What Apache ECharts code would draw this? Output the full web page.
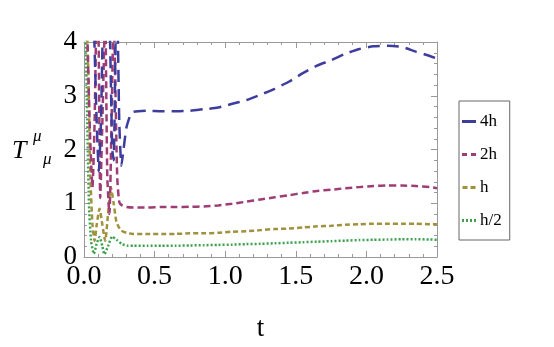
<!DOCTYPE html>
<html>
<head>
<meta charset="utf-8">
<script src="https://cdn.jsdelivr.net/npm/echarts@6/dist/echarts.min.js"></script>
<style>
  html, body { margin: 0; padding: 0; background: #fff; }
  #main { width: 554px; height: 347px; }
</style>
</head>
<body>
<div id="main"></div>
<script>
// series names
var names = ['4h', '2h', 'h', 'h/2'];
var colors = ['#3D3D9E', '#9E3D75', '#A0913D', '#3DA150'];

// late-time sample grid shared by all curves
var tLate = [0.35, 0.45, 0.55, 0.65, 0.75, 0.85, 0.95, 1.05, 1.15, 1.25, 1.35, 1.45,
             1.55, 1.65, 1.75, 1.85, 1.95, 2.05, 2.15, 2.25, 2.35, 2.45, 2.5];

// early oscillating part (t, value)
var t4hEarly = [0, 0.05, 0.09, 0.105, 0.12, 0.15, 0.18, 0.2, 0.21, 0.225, 0.235, 0.25, 0.265, 0.28, 0.3, 0.33];
var y4hEarly = [8, 6, 2.5, 1.6, 2.5, 6, 4.5, 2.0, 1.8, 4.2, 4.5, 2.5, 1.7, 2.0, 2.4, 2.65];
var y4hLate = [2.70, 2.72, 2.71, 2.71, 2.72, 2.75, 2.78, 2.85, 2.92, 3.02, 3.13, 3.26,
               3.42, 3.56, 3.66, 3.78, 3.87, 3.92, 3.93, 3.91, 3.82, 3.74, 3.69];

var t2hEarly = [0, 0.02, 0.04, 0.06, 0.075, 0.09, 0.1, 0.115, 0.13, 0.15, 0.165, 0.18, 0.195, 0.21, 0.22, 0.235, 0.25, 0.27, 0.3];
var y2hEarly = [6, 4.5, 2.5, 1.3, 2.5, 4.5, 4.5, 1.1, 2.5, 4.5, 1.5, 0.8, 2.5, 4.5, 3.5, 1.5, 1.02, 0.96, 0.93];
var y2hLate = [0.92, 0.92, 0.93, 0.93, 0.935, 0.94, 0.96, 0.99, 1.03, 1.07, 1.11, 1.15,
               1.19, 1.23, 1.25, 1.28, 1.30, 1.32, 1.33, 1.33, 1.32, 1.30, 1.28];

var thEarly = [0, 0.03, 0.045, 0.06, 0.075, 0.09, 0.11, 0.13, 0.15, 0.17, 0.19, 0.21, 0.23, 0.26, 0.3];
var yhEarly = [6, 3.5, 1.5, 0.6, 0.3, 0.6, 0.9, 0.6, 0.3, 0.8, 1.3, 1.0, 0.65, 0.5, 0.45];
var yhLate = [0.43, 0.43, 0.43, 0.43, 0.44, 0.44, 0.45, 0.47, 0.48, 0.50, 0.52, 0.53,
              0.55, 0.57, 0.58, 0.60, 0.61, 0.62, 0.62, 0.62, 0.62, 0.61, 0.61];

var th2Early = [0, 0.02, 0.035, 0.05, 0.07, 0.09, 0.11, 0.13, 0.145, 0.17, 0.2, 0.23, 0.27, 0.31];
var yh2Early = [6, 3.0, 1.0, 0.3, 0.06, 0.25, 0.37, 0.2, 0.05, 0.2, 0.38, 0.32, 0.24, 0.21];
var yh2Late = [0.21, 0.21, 0.21, 0.21, 0.215, 0.22, 0.225, 0.23, 0.24, 0.245, 0.255, 0.265,
               0.275, 0.285, 0.295, 0.305, 0.315, 0.32, 0.325, 0.33, 0.33, 0.325, 0.32];

// x / y ticks
var xMin = 0, xMax = 2.5, xStep = 0.5;
var yMin = 0, yMax = 4, yStep = 1;

function pairs(tEarly, yEarly, yLate) {
  var out = [];
  for (var i = 0; i < tEarly.length; i++) out.push([tEarly[i], yEarly[i]]);
  for (var j = 0; j < tLate.length; j++) out.push([tLate[j], yLate[j]]);
  return out;
}

var seriesData = [
  pairs(t4hEarly, y4hEarly, y4hLate),
  pairs(t2hEarly, y2hEarly, y2hLate),
  pairs(thEarly, yhEarly, yhLate),
  pairs(th2Early, yh2Early, yh2Late)
];
var dashes = [[12, 7], [7, 4], [5, 3], [2, 2]];
// legend swatches: short dashed strokes drawn as filled rects (14 x 3)
var legendIcons = [
  'path://M0,0h14v3h-14z',
  'path://M0,0h5v3h-5zM9,0h5v3h-5z',
  'path://M0,0h5v3h-5zM8,0h5v3h-5z',
  'path://M0,0h2v3h-2zM4,0h2v3h-2zM8,0h2v3h-2zM12,0h2v3h-2z'
];

var serif = 'Liberation Serif';
var frame = '#999';

function xAx(pos, labels) {
  return {
    type: 'value', position: pos, min: xMin, max: xMax, interval: xStep,
    axisLine: { show: true, onZero: false, lineStyle: { color: frame, width: 1 } },
    axisTick: { show: true, inside: true, length: 6, lineStyle: { color: frame } },
    minorTick: { show: true, splitNumber: 5, length: 3, lineStyle: { color: frame } },
    splitLine: { show: false },
    axisLabel: { show: labels, color: '#000', fontFamily: serif, fontSize: 28, margin: 6,
                 formatter: function (v) { return v.toFixed(1); } },
    name: labels ? 't' : '', nameLocation: 'middle', nameGap: 58,
    nameTextStyle: { color: '#000', fontFamily: serif, fontSize: 27 }
  };
}
function yAx(pos, labels) {
  return {
    type: 'value', position: pos, min: yMin, max: yMax, interval: yStep,
    axisLine: { show: true, onZero: false, lineStyle: { color: frame, width: 1 } },
    axisTick: { show: true, inside: true, length: 6, lineStyle: { color: frame } },
    minorTick: { show: true, splitNumber: 5, length: 3, lineStyle: { color: frame } },
    splitLine: { show: false },
    axisLabel: { show: labels, color: '#000', fontFamily: serif, fontSize: 27, margin: 7 }
  };
}

var chart = echarts.init(document.getElementById('main'));
chart.setOption({
  animation: false,
  backgroundColor: '#fff',
  grid: { left: 84, top: 42, right: 117, bottom: 87 },
  xAxis: [xAx('bottom', true), xAx('top', false)],
  yAxis: [yAx('left', true), yAx('right', false)],
  legend: {
    orient: 'vertical', left: 459, top: 101,
    padding: [12, 8, 11, 3], itemGap: 16, itemWidth: 14, itemHeight: 3,
    borderColor: '#666', borderWidth: 1,
    textStyle: { color: '#000', fontFamily: serif, fontSize: 17, padding: [0, 0, 0, -1] },
    data: names.map(function (n, i) {
      return { name: n, icon: legendIcons[i], itemStyle: { color: colors[i] } };
    })
  },
  graphic: [
    { type: 'text', left: 12, top: 138, style: { text: 'T', fontFamily: serif, fontStyle: 'italic', fontSize: 26, fill: '#000' } },
    { type: 'text', left: 33, top: 128, style: { text: 'μ', fontFamily: serif, fontStyle: 'italic', fontSize: 17, fill: '#000' } },
    { type: 'text', left: 43, top: 151, style: { text: 'μ', fontFamily: serif, fontStyle: 'italic', fontSize: 17, fill: '#000' } }
  ],
  series: names.map(function (n, i) {
    return {
      name: n, type: 'line', xAxisIndex: 0, yAxisIndex: 0,
      data: seriesData[i], showSymbol: false, symbol: 'none', smooth: 0.2,
      clip: true, z: 10 - i,
      itemStyle: { color: colors[i] },
      lineStyle: { color: colors[i], width: 2.5, type: dashes[i] }
    };
  })
});
</script>
</body>
</html>
